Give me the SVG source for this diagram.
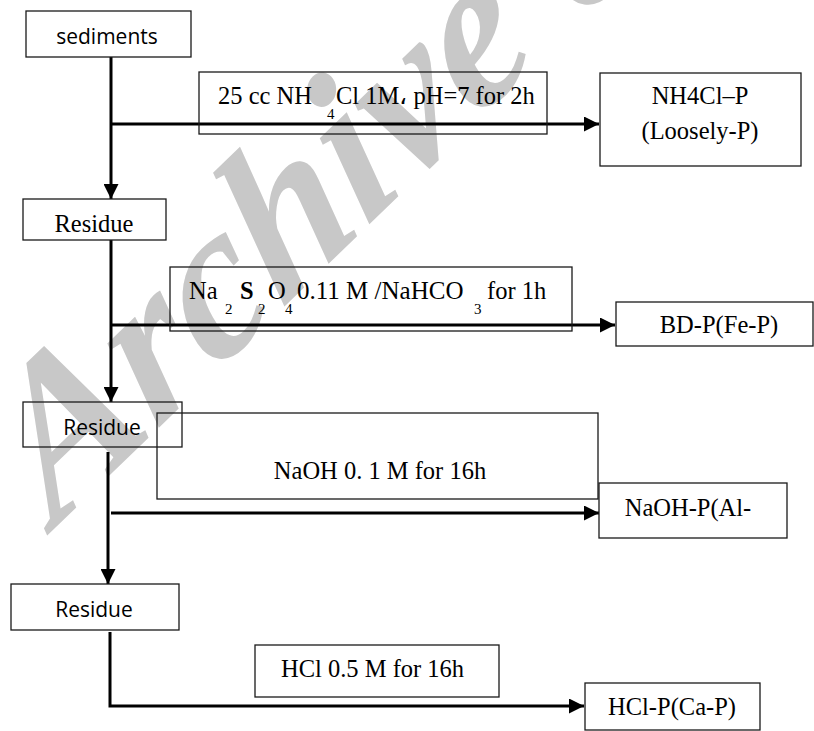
<svg xmlns="http://www.w3.org/2000/svg" width="814" height="731" viewBox="0 0 814 731">
<style>
.box{fill:none;stroke:#1a1a1a;stroke-width:1.3}
.serif{font-family:"Liberation Serif","Times New Roman",serif;font-size:24.5px;fill:#000}
.sans{font-family:"Open Sans","Liberation Sans",sans-serif;font-size:21px;fill:#000}
.sub{font-size:15px}
.conn{fill:none;stroke:#000;stroke-width:3}
.wm{font-family:"Liberation Serif","Times New Roman",serif;font-weight:bold;font-style:italic;font-size:210px;fill:#c8c8c8}
</style>
<defs>
<marker id="arr" markerWidth="15" markerHeight="15" refX="15" refY="7.5" orient="auto" markerUnits="userSpaceOnUse">
<path d="M0,0 L15,7.5 L0,15 Z" fill="#000"/>
</marker>
</defs>
<rect width="814" height="731" fill="#fff"/>
<text class="wm" transform="translate(55,528) rotate(-44) skewX(-10)">Archive of SID</text>
<g id="connectors">
<path class="conn" d="M111,57 V199" marker-end="url(#arr)"/>
<path class="conn" d="M111,124 H599" marker-end="url(#arr)"/>
<path class="conn" d="M111,240 V402" marker-end="url(#arr)"/>
<path class="conn" d="M111,325 H615" marker-end="url(#arr)"/>
<path class="conn" d="M108,452 V584" marker-end="url(#arr)"/>
<path class="conn" d="M111,513 H599" marker-end="url(#arr)"/>
<path class="conn" d="M110,632 V706 H584" marker-end="url(#arr)"/>
</g>
<g id="sediments">
<rect class="box" x="26" y="11" width="165" height="46"/>
<text class="sans" x="107" y="44" text-anchor="middle">sediments</text>
</g>
<g id="step1">
<rect class="box" x="199" y="72" width="348" height="62"/>
<text class="serif" font-size="24"><tspan x="218" y="104">25 cc NH </tspan><tspan class="sub" x="327" y="119">4</tspan><tspan x="336" y="104">Cl 1M، pH=7 for 2h</tspan></text>
</g>
<g id="nh4cl-p">
<rect class="box" x="600" y="73" width="201" height="93"/>
<text class="serif" x="700" y="104" text-anchor="middle">NH4Cl–P</text>
<text class="serif" x="700" y="139" text-anchor="middle">(Loosely-P)</text>
</g>
<g id="residue1">
<rect class="box" x="23" y="199" width="143" height="41"/>
<text class="serif" x="94" y="232" text-anchor="middle">Residue</text>
</g>
<g id="step2">
<rect class="box" x="170" y="267" width="402" height="64"/>
<text class="serif"><tspan x="189" y="299">Na</tspan><tspan class="sub" x="225" y="314">2</tspan><tspan x="240" y="299" font-weight="bold">S</tspan><tspan class="sub" x="258" y="314">2</tspan><tspan x="268" y="299">O</tspan><tspan class="sub" x="285" y="314">4</tspan><tspan x="297" y="299" font-size="25">0.11 M /NaHCO</tspan><tspan class="sub" x="474" y="314">3</tspan><tspan x="487" y="299">for 1h</tspan></text>
</g>
<g id="bd-p">
<rect class="box" x="616" y="302" width="197" height="44"/>
<text class="serif" x="719" y="333" text-anchor="middle">BD-P(Fe-P)</text>
</g>
<g id="residue2">
<rect class="box" x="23" y="402" width="159" height="45"/>
<text class="sans" x="102" y="435" text-anchor="middle">Residue</text>
</g>
<g id="step3">
<rect class="box" x="157" y="413" width="441" height="86"/>
<text class="serif" x="380" y="479" text-anchor="middle">NaOH 0. 1 M for 16h</text>
</g>
<g id="naoh-p">
<rect class="box" x="599" y="483" width="188" height="55"/>
<text class="serif" x="688" y="516" text-anchor="middle" font-size="24">NaOH-P(Al-</text>
</g>
<g id="residue3">
<rect class="box" x="11" y="584" width="168" height="46"/>
<text class="sans" x="94" y="617" text-anchor="middle">Residue</text>
</g>
<g id="step4">
<rect class="box" x="255" y="645" width="244" height="52"/>
<text class="serif" x="281" y="677">HCl 0.5 M for 16h</text>
</g>
<g id="hcl-p">
<rect class="box" x="585" y="683" width="175" height="47"/>
<text class="serif" x="672" y="715" text-anchor="middle">HCl-P(Ca-P)</text>
</g>
</svg>
